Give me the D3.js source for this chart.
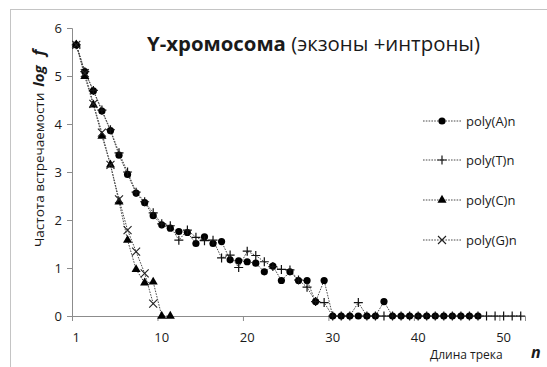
<!DOCTYPE html>
<html>
<head>
<meta charset="utf-8">
<script src="https://cdn.jsdelivr.net/npm/d3@7/dist/d3.min.js"></script>
<style>
  html, body { margin: 0; padding: 0; background: #fff; }
  svg { display: block; }
  text { font-family: "Open Sans", "Noto Sans", sans-serif; fill: #1a1a1a; }
</style>
</head>
<body>
<svg id="chart" width="547" height="367"></svg>
<script>
// Track length categories n (one slot per category on the horizontal axis)
const categories = [1,2,3,4,5,6,7,8,9,10,11,12,13,14,15,16,17,18,19,20,21,22,23,24,25,26,27,
  28,29,30,31,32,33,34,35,36,37,38,39,40,41,42,43,44,45,46,47,48,49,50,51,52,53];

// log f for each homopolymer tract, in category order
const polyA = [5.65,5.09,4.69,4.27,3.86,3.35,2.95,2.56,2.36,2.09,1.90,1.83,1.76,1.74,1.51,1.65,
  1.51,1.55,1.17,1.15,1.13,1.10,0.92,1.04,0.74,0.92,0.74,0.74,0.30,0.74,0,0,0,0,0,0,0.30,
  0,0,0,0,0,0,0,0,0,0,0];
const polyT = [5.65,5.09,4.70,4.29,3.88,3.40,3.00,2.58,2.38,2.15,1.92,1.88,1.58,1.79,1.64,1.57,
  1.58,1.21,1.27,1.01,1.35,1.26,1.13,1.03,0.97,0.96,0.75,0.60,0.30,0.28,0,0,0,0.28,0,0,0,
  0,0,0,0,0,0,0,0,0,0,0,0,0,0,0,0];
const polyC = [5.65,4.99,4.40,3.75,3.15,2.38,1.58,0.97,0.69,0.71,0,0];
const polyG = [5.65,5.06,4.42,3.82,3.15,2.43,1.79,1.34,0.89,0.26];

const seriesNames = ["poly(A)n", "poly(T)n", "poly(C)n", "poly(G)n"];
const seriesValues = [polyA, polyT, polyC, polyG];
const markerKinds = ["circle", "plus", "triangle", "cross"];

// Axis labelling
const yTicks = [0,1,2,3,4,5,6];
const xTickBounds = [0.5,10.5,20.5,30.5,40.5,50.5];
const xLabelAt = [1,11,21,31,41,51];
const xLabels = ["1","10","20","30","40","50"];

const svg = d3.select("#chart");

// outer frame
svg.append("rect")
  .attr("x", 10.5).attr("y", 9.5).attr("width", 560).attr("height", 380)
  .attr("fill", "none").attr("stroke", "#c4c4c4").attr("stroke-width", 1);

const x = d3.scaleLinear().domain([0.5, categories.length + 0.5]).range([72, 525]);
const y = d3.scaleLinear().domain([0, 6]).range([316, 28]);

// Y axis
const yAxis = svg.append("g").attr("transform", "translate(72,0)")
  .call(d3.axisLeft(y).tickValues(yTicks).tickSize(5).tickPadding(5).tickFormat(d3.format("d")));
yAxis.selectAll("path, line").attr("stroke", "#8c8c8c");
yAxis.selectAll("text").attr("font-size", 13).attr("fill", "#1a1a1a")
  .style("font-family", "'Open Sans', sans-serif");

// X axis: tick marks on category boundaries
const xAxis = svg.append("g").attr("transform", "translate(0,316)")
  .call(d3.axisBottom(x).tickValues(xTickBounds).tickSize(5).tickFormat(""));
xAxis.selectAll("path, line").attr("stroke", "#8c8c8c");

// X labels on category centres
svg.append("g").selectAll("text").data(xLabelAt).join("text")
  .attr("x", d => x(d)).attr("y", 342)
  .attr("text-anchor", "middle").attr("font-size", 13)
  .text((d, i) => xLabels[i]);

// Series lines
const line = d3.line().x((d, i) => x(categories[i])).y(d => y(d));
seriesValues.forEach(vals => {
  svg.append("path").datum(vals)
    .attr("d", line)
    .attr("fill", "none").attr("stroke", "#4a4a4a")
    .attr("stroke-width", 1).attr("stroke-dasharray", "1.6,1.2");
});

function drawMarker(g, kind, cx, cy) {
  if (kind === "circle") {
    g.append("circle").attr("cx", cx).attr("cy", cy).attr("r", 3.6).attr("fill", "#000");
  } else if (kind === "plus") {
    g.append("path").attr("d", `M${cx-4.5},${cy}H${cx+4.5}M${cx},${cy-4.5}V${cy+4.5}`)
      .attr("stroke", "#111").attr("stroke-width", 1.2).attr("fill", "none");
  } else if (kind === "triangle") {
    g.append("path").attr("d", d3.symbol(d3.symbolTriangle, 36)())
      .attr("transform", `translate(${cx},${cy})`).attr("fill", "#000");
  } else {
    g.append("path").attr("d", `M${cx-4},${cy-4}L${cx+4},${cy+4}M${cx-4},${cy+4}L${cx+4},${cy-4}`)
      .attr("stroke", "#222").attr("stroke-width", 1.1).attr("fill", "none");
  }
}

// Series markers
seriesValues.forEach((vals, s) => {
  const g = svg.append("g");
  vals.forEach((v, i) => drawMarker(g, markerKinds[s], x(categories[i]), y(v)));
});

// Legend
const legendRows = [121, 160, 200, 240];
seriesNames.forEach((name, s) => {
  const ry = legendRows[s];
  svg.append("line").attr("x1", 423).attr("x2", 461).attr("y1", ry).attr("y2", ry)
    .attr("stroke", "#4a4a4a").attr("stroke-width", 1).attr("stroke-dasharray", "1.6,1.2");
  drawMarker(svg.append("g"), markerKinds[s], 442, ry);
  svg.append("text").attr("x", 466).attr("y", ry + 4.5).attr("font-size", 13).text(name);
});

// Title
const title = svg.append("text").attr("x", 147).attr("y", 51).attr("font-size", 20);
title.append("tspan").attr("font-weight", "bold").text("Y-хромосома");
title.append("tspan").text(" (экзоны +интроны)");
const tw = title.node().getComputedTextLength();
title.attr("font-size", 20 * 333 / tw);

// Axis titles
const yTitle = svg.append("text")
  .attr("transform", "translate(43.5,247) rotate(-90)")
  .attr("font-size", 13.5);
yTitle.append("tspan").text("Частота встречаемости");
yTitle.append("tspan").attr("dx", 6).attr("font-weight", "bold").attr("font-style", "italic")
  .attr("font-size", 15).text("log");
yTitle.append("tspan").attr("dx", 10).attr("font-weight", "bold").attr("font-style", "italic")
  .attr("font-size", 16).text("f");

svg.append("text").attr("x", 430).attr("y", 359).attr("font-size", 12).text("Длина трека");
svg.append("text").attr("x", 531).attr("y", 358).attr("font-size", 16)
  .attr("font-weight", "bold").attr("font-style", "italic").text("n");
</script>
</body>
</html>
